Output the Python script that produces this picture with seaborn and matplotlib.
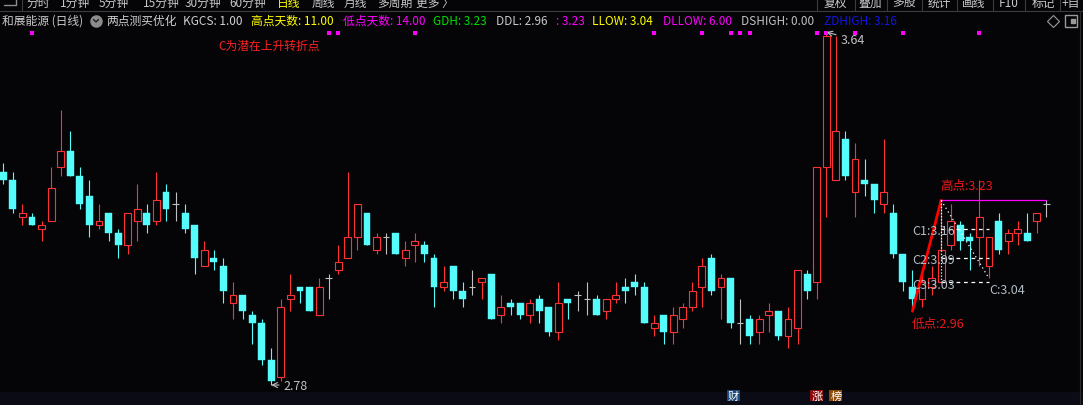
"""Two-point buy signal daily candlestick chart (dark terminal style)."""
import matplotlib
matplotlib.use('Agg')
import matplotlib.pyplot as plt
import matplotlib.transforms as mtransforms
from matplotlib.lines import Line2D
from matplotlib.patches import Rectangle
import numpy as np
import pandas as pd
import seaborn as sns

# ----------------------------------------------------------------------------
# Data (daily OHLC)
# ----------------------------------------------------------------------------
open_ = [3.30, 3.28, 3.19, 3.19, 3.16, 3.18, 3.31, 3.35, 3.29, 3.24,
         3.17, 3.20, 3.15, 3.12, 3.18, 3.20, 3.18, 3.25, 3.22, 3.20,
         3.17, 3.07, 3.09, 3.07, 2.98, 3.00, 2.95, 2.93, 2.84, 2.80,
         2.99, 3.02, 3.02, 2.95, 3.04, 3.06, 3.09, 3.14, 3.20, 3.11,
         3.14, 3.15, 3.09, 3.12, 3.12, 3.09, 3.02, 3.07, 3.01, 3.02,
         3.03, 3.05, 2.95, 2.98, 2.98, 2.95, 2.99, 2.97, 2.91, 2.99,
         3.00, 2.99, 2.99, 2.96, 2.99, 3.02, 3.03, 3.02, 2.92, 2.95,
         2.91, 2.94, 2.97, 3.02, 3.09, 3.02, 3.04, 2.93, 2.94, 2.91,
         2.95, 2.96, 2.90, 2.92, 3.05, 3.03, 3.31, 3.28, 3.38, 3.25,
         3.28, 3.27, 3.22, 3.20, 3.10, 3.02, 2.99, 3.02, 3.03, 3.12,
         3.17, 3.14, 3.14, 3.07, 3.18, 3.13, 3.15, 3.15, 3.18, 3.22]
high = [3.32, 3.30, 3.22, 3.20, 3.18, 3.31, 3.45, 3.40, 3.31, 3.28,
        3.22, 3.20, 3.16, 3.20, 3.27, 3.22, 3.30, 3.27, 3.25, 3.22,
        3.17, 3.13, 3.11, 3.09, 3.03, 3.00, 2.96, 2.94, 2.87, 2.99,
        3.05, 3.02, 3.02, 3.04, 3.05, 3.12, 3.30, 3.22, 3.20, 3.15,
        3.15, 3.15, 3.13, 3.15, 3.13, 3.10, 3.07, 3.07, 3.03, 3.06,
        3.04, 3.05, 3.00, 2.99, 2.98, 2.99, 3.00, 2.97, 3.03, 2.99,
        3.01, 3.03, 3.00, 2.99, 3.03, 3.04, 3.05, 3.03, 2.95, 2.95,
        2.97, 2.98, 3.03, 3.09, 3.10, 3.05, 3.04, 2.99, 2.95, 2.95,
        2.98, 2.96, 2.97, 3.06, 3.06, 3.31, 3.64, 3.63, 3.40, 3.37,
        3.33, 3.27, 3.38, 3.22, 3.10, 3.06, 3.05, 3.07, 3.23, 3.22,
        3.18, 3.15, 3.28, 3.14, 3.20, 3.16, 3.18, 3.20, 3.20, 3.23]
low = [3.27, 3.20, 3.17, 3.17, 3.13, 3.18, 3.29, 3.29, 3.21, 3.14,
       3.16, 3.13, 3.09, 3.10, 3.13, 3.15, 3.17, 3.18, 3.18, 3.15,
       3.05, 3.07, 3.06, 2.98, 2.94, 2.94, 2.88, 2.83, 2.78, 2.79,
       2.96, 2.98, 2.96, 2.95, 2.99, 3.05, 3.09, 3.11, 3.12, 3.10,
       3.10, 3.10, 3.07, 3.08, 3.08, 2.97, 3.01, 2.99, 2.97, 3.00,
       2.99, 2.94, 2.93, 2.95, 2.94, 2.93, 2.93, 2.90, 2.89, 2.94,
       2.96, 2.95, 2.95, 2.94, 2.98, 2.98, 3.00, 2.93, 2.90, 2.88,
       2.88, 2.92, 2.96, 2.97, 3.00, 2.94, 2.92, 2.88, 2.88, 2.88,
       2.91, 2.89, 2.87, 2.88, 2.99, 2.99, 3.19, 3.28, 3.28, 3.19,
       3.24, 3.20, 3.20, 3.09, 3.01, 2.96, 2.97, 3.00, 3.03, 3.11,
       3.11, 3.06, 3.07, 3.04, 3.10, 3.10, 3.12, 3.13, 3.15, 3.19]
close = [3.28, 3.21, 3.20, 3.17, 3.17, 3.26, 3.35, 3.29, 3.22, 3.17,
         3.18, 3.15, 3.12, 3.20, 3.21, 3.17, 3.23, 3.21, 3.22, 3.16,
         3.09, 3.11, 3.08, 3.01, 3.00, 2.96, 2.93, 2.84, 2.79, 2.97,
         3.00, 3.01, 2.96, 3.02, 3.04, 3.08, 3.14, 3.22, 3.12, 3.14,
         3.14, 3.10, 3.11, 3.13, 3.10, 3.02, 3.03, 3.01, 2.99, 3.02,
         3.04, 2.94, 2.97, 2.97, 2.95, 2.98, 2.96, 2.91, 2.98, 2.98,
         3.00, 2.99, 2.95, 2.99, 3.00, 3.01, 3.02, 2.93, 2.93, 2.91,
         2.95, 2.97, 3.01, 3.07, 3.01, 3.04, 2.93, 2.93, 2.90, 2.94,
         2.96, 2.90, 2.94, 3.06, 3.01, 3.31, 3.63, 3.40, 3.29, 3.33,
         3.27, 3.23, 3.25, 3.10, 3.03, 2.99, 3.03, 3.04, 3.11, 3.18,
         3.13, 3.13, 3.19, 3.14, 3.11, 3.15, 3.16, 3.13, 3.20, 3.22]

signal_days = [3, 34, 35, 43, 68, 73, 76, 77, 78, 85, 86, 89, 94, 102]

low_day, low_price = 95, 2.96       # 低点
high_day, high_price = 98, 3.23     # 高点
c_levels = [3.16, 3.09, 3.03]       # C1, C2, C3
c_day, c_price = 103, 3.04          # C
peak_day, peak_price = 86, 3.64
trough_day, trough_price = 28, 2.78

tag_days = [76.3, 85.0, 87.0]
tag_texts = ['财', '涨', '榜']

menu_items = ['分时', '1分钟', '5分钟', '15分钟', '30分钟', '60分钟',
              '日线', '周线', '月线', '多周期', '更多 〉']
menu_x = [38, 75, 114, 161, 203, 248, 289, 323, 355, 395, 435]
tool_items = ['复权', '叠加', '多股', '统计', '画线', 'F10', '标记', '+自']
tool_x = [835, 870, 904, 939, 974, 1009, 1043, 1071]
tool_sep = [817, 855, 887, 922, 957, 993, 1025, 1060]

# ----------------------------------------------------------------------------
# Style
# ----------------------------------------------------------------------------
BG = '#050508'
RED = '#ff3232'
CYAN = '#54fcfc'
GRAY = '#c0c0c0'
W, H = 1083, 406

sns.set_theme(style='dark', rc={'axes.facecolor': BG, 'figure.facecolor': BG,
                                'axes.edgecolor': BG, 'axes.grid': False})
plt.rcParams['font.family'] = ['Noto Sans CJK SC', 'DejaVu Sans']


def fx(px):
    return px / W


def fy(py):
    return 1 - py / H


df = pd.DataFrame({'open': open_, 'high': high, 'low': low, 'close': close})
df['day'] = np.arange(len(df))
up = df[df.close > df.open]
down = df[df.close < df.open]
flat = df[df.close == df.open]

fig = plt.figure(figsize=(W / 100, H / 100), dpi=100)
ax = fig.add_axes([0, 0, 1, 1])
ax.set_xlim(-3.3 / 9.57, (W - 3.3) / 9.57)
ax.set_ylim(peak_price - 373 / 410.5, peak_price + 33 / 410.5)
ax.set_axis_off()

# bottom strip
ax.add_patch(Rectangle((0, 0), 1, 13 / H, transform=ax.transAxes,
                       facecolor='#0b0b15', edgecolor='none', zorder=0.5))

# candles
bw = 0.72
ax.vlines(up.day, up.low, up.high, color=RED, lw=0.8, zorder=2)
ax.bar(up.day, up.close - up.open, bottom=up.open, width=bw,
       facecolor=BG, edgecolor=RED, lw=0.8, zorder=3)
ax.vlines(down.day, down.low, down.high, color=CYAN, lw=0.8, zorder=2)
ax.bar(down.day, down.close - down.open, bottom=down.open, width=bw,
       facecolor=CYAN, edgecolor=CYAN, lw=0.3, zorder=3)
ax.vlines(flat.day, flat.low, flat.high, color=GRAY, lw=0.8, zorder=2)
ax.hlines(flat.close, flat.day - 0.34, flat.day + 0.34, color=GRAY, lw=0.8, zorder=3)

# two-point structure
sns.lineplot(x=[low_day, high_day], y=[low_price, high_price], color='#ff0000',
             lw=2.0, ax=ax, zorder=5)
sns.lineplot(x=[high_day, len(df) - 1], y=[high_price, high_price], color='#ff00ff',
             lw=0.9, ax=ax, zorder=5)
ax.plot([high_day, high_day], [high_price, c_levels[-1]], color='white',
        lw=0.9, ls=(0, (1, 1.5)), zorder=5)
ax.plot([high_day, c_day], [high_price, c_price], color='white',
        lw=0.9, ls=(0, (1, 2.5)), zorder=5)
ax.hlines(c_levels, high_day, c_day, colors='white', lw=0.9,
          linestyles=(0, (3, 3)), zorder=5)

lbl = dict(fontsize=9, color='#b4bcc4', va='center', ha='left', zorder=6)
for i, lv in enumerate(c_levels):
    ax.text(low_day - 0.05, lv - 0.004, 'C%d:%.2f' % (i + 1, lv), **lbl)
ax.text(c_day, c_price - 0.028, 'C:%.2f' % c_price, **lbl)
ax.text(high_day - 0.05, high_price + 0.036, '高点:%.2f' % high_price,
        fontsize=9, color='#e81818', va='center', ha='left', zorder=6)
ax.text(low_day - 0.05, low_price - 0.03, '低点:%.2f' % low_price,
        fontsize=9, color='#e81818', va='center', ha='left', zorder=6)

# extreme labels
ax.annotate('%.2f' % peak_price, xy=(peak_day, peak_price),
            xytext=(peak_day + 1.5, peak_price - 0.018), fontsize=9, color=GRAY,
            va='center', ha='left',
            arrowprops=dict(arrowstyle='->', color=GRAY, lw=0.8,
                            shrinkA=1, shrinkB=0))
ax.annotate('%.2f' % trough_price, xy=(trough_day, trough_price),
            xytext=(trough_day + 1.3, trough_price), fontsize=9, color=GRAY,
            va='center', ha='left',
            arrowprops=dict(arrowstyle='->', color=GRAY, lw=0.8,
                            shrinkA=1, shrinkB=0))

# signal dots along the top
trans = mtransforms.blended_transform_factory(ax.transData, ax.transAxes)
ax.scatter(signal_days, [fy(34)] * len(signal_days), transform=trans,
           marker='s', s=5, color='#ff00ff', lw=0, zorder=6)

# tags at the bottom
for d, t, c in zip(tag_days, tag_texts, ['#1b4a7a', '#8a0a0a', '#8a4a08']):
    ax.text(d, fy(396.5), t, transform=trans, fontsize=8, color='white',
            ha='center', va='center', zorder=7,
            bbox=dict(boxstyle='square,pad=0.08', fc=c, ec='none'))

ax.text(fx(269), fy(46), 'C为潜在上升转折点', transform=fig.transFigure,
        fontsize=8.5, color='#ff2020', ha='center', va='center')

# ----------------------------------------------------------------------------
# Header rows
# ----------------------------------------------------------------------------
fs = 8.5
for t, x in zip(menu_items, menu_x):
    fig.text(fx(x), fy(3.5), t, fontsize=fs, ha='center', va='center',
             color='#ffff00' if t == '日线' else '#c8c8c8')
for t, x in zip(tool_items, tool_x):
    fig.text(fx(x), fy(3.5), t, fontsize=fs, ha='center', va='center', color='#c8c8c8')
for x in [22] + tool_sep:
    fig.add_artist(Line2D([fx(x), fx(x)], [fy(0), fy(12)], color='#3c3c3c', lw=0.8))
fig.add_artist(Line2D([0, 1], [fy(12), fy(12)], color='#3c3c3c', lw=0.8))
fig.add_artist(Line2D([fx(1080), fx(1080)], [fy(12), 0], color='#2a2a2a', lw=0.8))
fig.add_artist(Line2D([fx(4), fx(16), fx(16)], [fy(6), fy(6), fy(0)],
                      color='#8c8c8c', lw=1.0))

header = [
    (2, '和展能源 (日线)', '#c8c8c8'),
    (106, '两点测买优化', '#d0d0d0'),
    (183, 'KGCS: 1.00', '#d0d0d0'),
    (251, '高点天数: 11.00', '#ffff00'),
    (343, '低点天数: 14.00', '#ff00ff'),
    (433, 'GDH: 3.23', '#00e000'),
    (496, 'DDL: 2.96', '#c8c8c8'),
    (556, ': 3.23', '#ff00ff'),
    (592, 'LLOW: 3.04', '#ffff00'),
    (663, 'DLLOW: 6.00', '#ff00ff'),
    (741, 'DSHIGH: 0.00', '#c0c0c0'),
    (824, 'ZDHIGH: 3.16', '#1414e6'),
]
for x, t, c in header:
    fig.text(fx(x), fy(21.5), t, fontsize=fs, ha='left', va='center', color=c)

# dropdown icon, diamond and panel icons
fig.add_artist(Line2D([fx(96)], [fy(21.5)], marker='o', ms=8, color='#8c8c8c', lw=0))
fig.add_artist(Line2D([fx(93.5), fx(96), fx(98.5)], [fy(20.5), fy(23), fy(20.5)],
                      color='#202020', lw=1.0))
fig.add_artist(Line2D([fx(1053)], [fy(21.5)], marker='D', ms=6.5, mfc='none',
                      mec='#9a9a9a', mew=0.8, lw=0))
fig.add_artist(Line2D([fx(1071)], [fy(21.5)], marker='s', ms=8, mfc='none',
                      mec='#9a9a9a', mew=1.0, lw=0))
fig.add_artist(Line2D([fx(1073)], [fy(21.5)], marker='s', ms=3.5, mfc='#9a9a9a',
                      mec='#9a9a9a', lw=0))

fig.savefig('out.png', dpi=100, facecolor=BG)
